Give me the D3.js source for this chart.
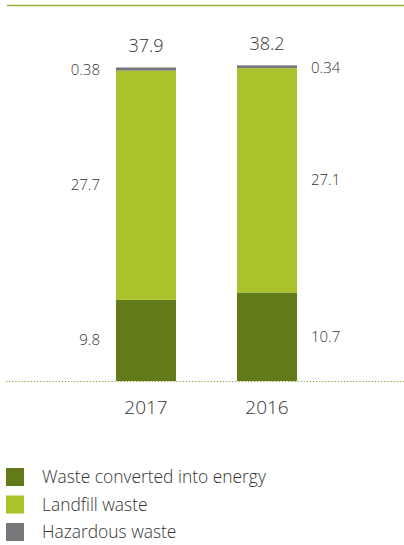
<!DOCTYPE html>
<html>
<head>
<meta charset="utf-8">
<script src="https://cdn.jsdelivr.net/npm/d3@7"></script>
<style>
  body { margin: 0; background: #fff; }
  text { font-family: "Open Sans", sans-serif; font-weight: 350; fill: #333; }
</style>
</head>
<body>
<svg id="vis"></svg>
<script>
const years = ["2017", "2016"];
const energy = [9.8, 10.7];
const landfill = [27.7, 27.1];
const hazardous = [0.38, 0.34];
const totals = ["37.9", "38.2"];
const seriesNames = ["Waste converted into energy", "Landfill waste", "Hazardous waste"];
const colors = ["#627a18", "#acc22c", "#76777a"];

const WIDTH = 404, HEIGHT = 545;
const SVG = d3.select("#vis").attr("width", WIDTH).attr("height", HEIGHT);

const baseY = 381;
const barW = 60;

// top rule
SVG.append("line")
  .attr("x1", 7).attr("x2", WIDTH).attr("y1", 5.5).attr("y2", 5.5)
  .attr("stroke", "#8fae3e").attr("stroke-width", 1.5);

const rows = years.map((y, i) => ({year: y, energy: energy[i], landfill: landfill[i], hazardous: hazardous[i], total: totals[i]}));
const keys = ["energy", "landfill", "hazardous"];
const stack = d3.stack().keys(keys)(rows);

// bar centres at 146 and 267
const x = d3.scalePoint().domain(years).range([146, 267]);
const y = d3.scaleLinear().domain([0, 38]).range([baseY, 66.5]);

stack.forEach((layer, li) => {
  SVG.append("g").selectAll("rect")
    .data(layer)
    .enter()
    .append("rect")
    .attr("x", (d) => x(d.data.year) - barW / 2)
    .attr("width", barW)
    .attr("y", (d) => y(d[1]))
    .attr("height", (d) => y(d[0]) - y(d[1]))
    .attr("fill", colors[li]);
});

// dotted baseline
SVG.append("line")
  .attr("x1", 6).attr("x2", WIDTH).attr("y1", baseY + 0.5).attr("y2", baseY + 0.5)
  .attr("stroke", "#8a9d3a").attr("stroke-width", 1.2)
  .attr("stroke-dasharray", "1.2,1.9");

// totals
SVG.selectAll(".total").data(rows).enter().append("text")
  .attr("x", (d) => x(d.year))
  .attr("y", (d) => y(d.energy + d.landfill + d.hazardous) - 15)
  .attr("text-anchor", "middle").style("font-size", "18px")
  .text((d) => d.total);

// segment labels: left of first bar, right of second
rows.forEach((d, i) => {
  const left = i === 0;
  const lx = left ? x(d.year) - barW / 2 - 16 : x(d.year) + barW / 2 + 14;
  const g = SVG.append("g").attr("text-anchor", left ? "end" : "start").style("font-size", "15px");
  g.append("text").attr("x", lx).attr("y", y(d.energy / 2) + 5).text(d.energy);
  g.append("text").attr("x", lx).attr("y", y(d.energy + d.landfill / 2) + 5).text(d.landfill);
  g.append("text").attr("x", lx).attr("y", y(d.energy + d.landfill + d.hazardous) + 8).text(d.hazardous);
});

// year labels
SVG.selectAll(".year").data(years).enter().append("text")
  .attr("x", (d) => x(d)).attr("y", 414)
  .attr("text-anchor", "middle").style("font-size", "19px")
  .text((d) => d);

// legend
const legend = SVG.append("g").attr("transform", "translate(6,468)");
seriesNames.forEach((name, i) => {
  const g = legend.append("g").attr("transform", `translate(0,${i * 27.5})`);
  g.append("rect").attr("width", 18).attr("height", 18).attr("fill", colors[i]);
  g.append("text").attr("x", 36).attr("y", 15).style("font-size", "17.4px").text(name);
});
</script>
</body>
</html>
